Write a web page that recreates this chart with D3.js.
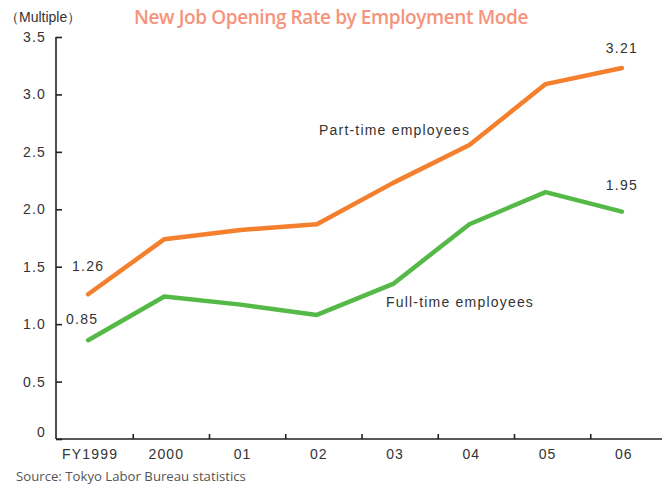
<!DOCTYPE html>
<html>
<head>
<meta charset="utf-8">
<script src="https://cdn.jsdelivr.net/npm/d3@7"></script>
<style>
  body { margin: 0; background: #fff; }
  svg { display: block; font-family: "Liberation Sans", Arial, sans-serif; }
</style>
</head>
<body>
<div id="chart"></div>
<script>
// Data
const years = ["FY1999", "2000", "01", "02", "03", "04", "05", "06"];
const partTime = [1.26, 1.74, 1.82, 1.87, 2.23, 2.56, 3.09, 3.23];
const fullTime = [0.86, 1.24, 1.17, 1.08, 1.35, 1.87, 2.15, 1.98];
const yTicks = [0, 0.5, 1.0, 1.5, 2.0, 2.5, 3.0, 3.5];
// value labels shown at selected points: [series, index, text, dx, dy]
const valueLabels = [
  ["part", 0, "1.26", 0, -23],
  ["full", 0, "0.85", -6, -16],
  ["part", 7, "3.21", 0, -15],
  ["full", 7, "1.95", 0, -22]
];

const width = 664, height = 485;
const svg = d3.select("#chart").append("svg")
  .attr("width", width)
  .attr("height", height);

const x = d3.scaleBand()
  .domain(years)
  .range([53, 663]);

const y = d3.scaleLinear()
  .domain([0, 3.5])
  .range([439, 37]);

const axisColor = "#222";
const textColor = "#333";
const labelFont = g => g.style("font-size", "14px").style("letter-spacing", "1.2px");

// Y axis
const yAxis = svg.append("g")
  .attr("transform", "translate(56,0)")
  .call(d3.axisRight(y).tickValues(yTicks).tickSize(6)
    .tickFormat(d => d === 0 ? "0" : d3.format(".1f")(d)));
yAxis.select(".domain").attr("stroke", axisColor).attr("stroke-width", 1.6)
  .attr("d", "M0," + y(3.5) + "H0V" + y(0));
yAxis.selectAll(".tick line").attr("stroke", axisColor).attr("stroke-width", 1.6);
yAxis.selectAll(".tick text")
  .attr("x", -10)
  .attr("text-anchor", "end")
  .attr("fill", textColor)
  .call(labelFont)
  .attr("dy", d => d === 0 ? "-0.15em" : "0.32em");

// X axis
const xAxis = svg.append("g")
  .attr("transform", "translate(0," + y(0) + ")");
xAxis.append("line")
  .attr("x1", 56).attr("x2", 662)
  .attr("stroke", axisColor).attr("stroke-width", 1.6);
xAxis.selectAll("line.tk")
  .data(years.slice(1))
  .join("line")
  .attr("class", "tk")
  .attr("x1", d => x(d) + 4).attr("x2", d => x(d) + 4)
  .attr("y1", 0).attr("y2", -5)
  .attr("stroke", axisColor).attr("stroke-width", 1.6);
xAxis.selectAll("text")
  .data(years)
  .join("text")
  .attr("x", d => x(d) + x.bandwidth() / 2 - 1)
  .attr("y", 20)
  .attr("text-anchor", "middle")
  .attr("fill", textColor)
  .call(labelFont)
  .text(d => d);

// Lines
const cx = d => x(d) + x.bandwidth() / 2 - 3;
const line = d3.line()
  .x((d, i) => cx(years[i]))
  .y(d => y(d));

svg.append("path")
  .datum(partTime)
  .attr("d", line)
  .attr("fill", "none")
  .attr("stroke", "#f47f2c")
  .attr("stroke-width", 4.5)
  .attr("stroke-linecap", "round")
  .attr("stroke-linejoin", "round");

svg.append("path")
  .datum(fullTime)
  .attr("d", line)
  .attr("fill", "none")
  .attr("stroke", "#55b947")
  .attr("stroke-width", 4.5)
  .attr("stroke-linecap", "round")
  .attr("stroke-linejoin", "round");

// Value labels
svg.selectAll("text.val")
  .data(valueLabels)
  .join("text")
  .attr("class", "val")
  .attr("x", d => cx(years[d[1]]) + d[3])
  .attr("y", d => y(d[0] === "part" ? partTime[d[1]] : fullTime[d[1]]) + d[4])
  .attr("text-anchor", "middle")
  .attr("fill", textColor)
  .call(labelFont)
  .text(d => d[2]);

// Series labels
svg.append("text")
  .attr("x", 319).attr("y", 135)
  .attr("fill", textColor)
  .call(labelFont)
  .text("Part-time employees");

svg.append("text")
  .attr("x", 386).attr("y", 307)
  .attr("fill", textColor)
  .call(labelFont)
  .text("Full-time employees");

// Unit label
svg.append("text")
  .attr("x", 5).attr("y", 22)
  .attr("fill", textColor)
  .style("font-size", "14px")
  .text("（Multiple）");

// Title
svg.append("text")
  .attr("x", 331).attr("y", 24)
  .attr("text-anchor", "middle")
  .attr("fill", "#f6937c")
  .style("font-family", "'Open Sans', sans-serif")
  .style("font-weight", "600")
  .style("font-size", "19px")
  .style("letter-spacing", "-0.4px")
  .text("New Job Opening Rate by Employment Mode");

// Source
svg.append("text")
  .attr("x", 16).attr("y", 481)
  .attr("fill", "#555")
  .style("font-family", "'Open Sans', sans-serif")
  .style("font-size", "13.2px")
  .text("Source:  Tokyo Labor Bureau statistics");
</script>
</body>
</html>
